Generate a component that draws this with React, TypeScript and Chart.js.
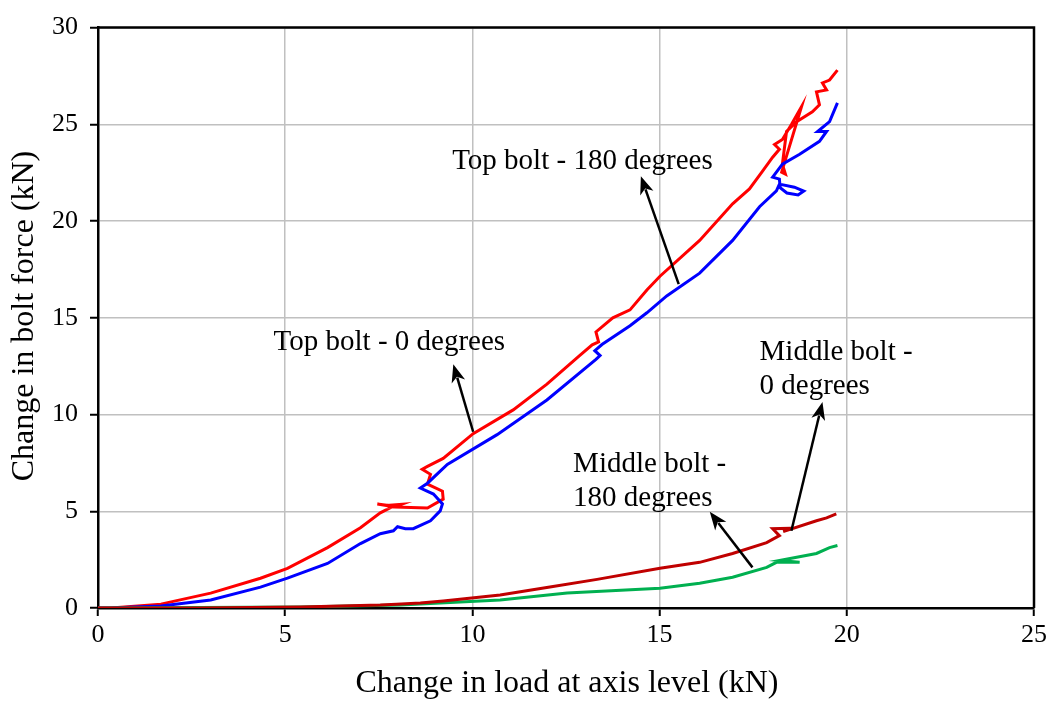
import React, { useEffect, useRef } from "react";
import { Chart, registerables } from "chart.js";

Chart.register(...registerables);

// Bolt force change vs. applied load, [load kN, bolt force kN]
const topBolt0: number[][] = [
  [0, 0], [0.35, 0], [1.68, 0.2], [3.01, 0.77], [4.34, 1.54], [5.06, 2.05], [6.13, 3.12],
  [7.01, 4.15], [7.54, 4.92], [7.89, 5.27], [7.46, 5.38], [7.7, 5.3], [8.1, 5.36], [7.9, 5.22],
  [8.8, 5.17], [9.22, 5.63], [9.2, 6.04], [8.8, 6.4], [8.88, 6.91], [8.66, 7.17], [8.8, 7.32],
  [9.22, 7.73], [10.02, 9.01], [11.09, 10.24], [11.99, 11.57], [12.87, 13.06], [13.2, 13.6],
  [13.37, 13.75], [13.3, 14.27], [13.75, 15.0], [14.21, 15.41], [14.66, 16.44], [15.01, 17.15],
  [16.07, 19.0], [16.95, 20.89], [17.4, 21.66], [17.75, 22.58], [18.02, 23.3], [18.2, 23.71],
  [18.07, 23.96], [18.28, 24.22], [18.52, 24.99], [18.79, 25.91], [18.26, 22.53], [18.36, 22.43],
  [18.28, 22.94], [18.39, 24.63], [18.66, 25.14], [19.08, 25.65], [19.27, 26.01], [19.19, 26.68],
  [19.46, 26.78], [19.35, 27.14], [19.54, 27.29], [19.75, 27.8],
];

const topBolt180: number[][] = [
  [0, 0], [0.35, 0], [1.68, 0.1], [3.01, 0.41], [4.34, 1.08], [5.06, 1.54], [6.13, 2.3],
  [7.01, 3.33], [7.54, 3.84], [7.89, 3.99], [8.0, 4.2], [8.21, 4.1], [8.42, 4.1], [8.88, 4.51],
  [9.14, 5.02], [9.2, 5.38], [8.96, 5.89], [8.61, 6.2], [8.8, 6.45], [9.33, 7.42], [10.66, 8.96],
  [11.99, 10.75], [13.3, 12.85], [13.41, 13.05], [13.27, 13.3], [13.46, 13.62], [14.21, 14.59],
  [14.66, 15.26], [15.19, 16.13], [16.07, 17.31], [16.95, 19.0], [17.67, 20.74], [18.12, 21.56],
  [18.2, 21.91], [18.6, 21.75], [18.85, 21.55], [18.7, 21.35], [18.4, 21.45], [18.22, 21.72],
  [18.2, 22.17], [18.02, 22.27], [18.28, 22.94], [18.74, 23.45], [19.27, 24.12], [19.46, 24.63],
  [19.22, 24.63], [19.54, 25.14], [19.75, 26.11],
];

const middleBolt0: number[][] = [
  [0, 0], [2.75, 0], [5.41, 0.05], [7.54, 0.15], [7.97, 0.2], [8.61, 0.26], [9.22, 0.36],
  [10.74, 0.67], [12.07, 1.08], [13.33, 1.48], [15.01, 2.05], [16.07, 2.36], [16.95, 2.82],
  [17.86, 3.38], [18.2, 3.74], [18.02, 4.1], [18.55, 4.12], [18.3, 3.95], [19.19, 4.51],
  [19.46, 4.66], [19.72, 4.86],
];

const middleBolt180: number[][] = [
  [0, 0], [5.41, 0.05], [8.08, 0.15], [10.74, 0.41], [12.53, 0.77], [15.01, 1.02], [16.07, 1.28],
  [16.95, 1.59], [17.86, 2.1], [18.12, 2.36], [18.74, 2.36], [18.2, 2.46], [19.19, 2.82],
  [19.54, 3.12], [19.75, 3.23],
];

const xTicks = [0, 5, 10, 15, 20, 25];
const yTicks = [0, 5, 10, 15, 20, 25, 30];

const xTitle = "Change in load at axis level (kN)";
const yTitle = "Change in bolt force (kN)";

// Callout text: [label lines], anchor in data units (left edge, first baseline)
const callouts: { lines: string[]; x: number; y: number }[] = [
  { lines: ["Top bolt - 0 degrees"], x: 4.69, y: 13.36 },
  { lines: ["Top bolt - 180 degrees"], x: 9.46, y: 22.68 },
  { lines: ["Middle bolt -", "0 degrees"], x: 17.67, y: 12.8 },
  { lines: ["Middle bolt -", "180 degrees"], x: 12.69, y: 7.01 },
];

// Arrows: [tail x, tail y, head x, head y] in data units
const arrows: number[][] = [
  [10.02, 9.11, 9.49, 12.6],
  [15.51, 16.74, 14.5, 22.32],
  [18.52, 3.99, 19.35, 10.65],
  [17.48, 2.1, 16.34, 4.97],
];

const SERIF = "'Liberation Serif', 'Times New Roman', serif";

const toXY = (arr: number[][]) => arr.map(([x, y]) => ({ x, y }));

const overlay = {
  id: "overlay",
  afterDatasetsDraw(chart: any) {
    const { ctx, chartArea, scales } = chart;
    const sx = scales.x;
    const sy = scales.y;
    ctx.save();
    // frame on top and right
    ctx.strokeStyle = "#000";
    ctx.lineWidth = 2.5;
    ctx.beginPath();
    ctx.moveTo(chartArea.left, chartArea.top);
    ctx.lineTo(chartArea.right, chartArea.top);
    ctx.lineTo(chartArea.right, chartArea.bottom);
    ctx.stroke();

    // arrows
    ctx.fillStyle = "#000";
    ctx.lineWidth = 2.5;
    arrows.forEach(([x0, y0, x1, y1]) => {
      const px0 = sx.getPixelForValue(x0);
      const py0 = sy.getPixelForValue(y0);
      const px1 = sx.getPixelForValue(x1);
      const py1 = sy.getPixelForValue(y1);
      const ang = Math.atan2(py1 - py0, px1 - px0);
      const len = 18;
      const wid = 7;
      const bx = px1 - len * Math.cos(ang);
      const by = py1 - len * Math.sin(ang);
      ctx.beginPath();
      ctx.moveTo(px0, py0);
      ctx.lineTo(bx + 4 * Math.cos(ang), by + 4 * Math.sin(ang));
      ctx.stroke();
      ctx.beginPath();
      ctx.moveTo(px1, py1);
      ctx.lineTo(bx + wid * Math.sin(ang), by - wid * Math.cos(ang));
      ctx.lineTo(bx + 5 * Math.cos(ang), by + 5 * Math.sin(ang));
      ctx.lineTo(bx - wid * Math.sin(ang), by + wid * Math.cos(ang));
      ctx.closePath();
      ctx.fill();
    });

    // callout labels
    ctx.font = `29px ${SERIF}`;
    ctx.textAlign = "left";
    ctx.textBaseline = "alphabetic";
    callouts.forEach((c) => {
      const px = sx.getPixelForValue(c.x);
      const py = sy.getPixelForValue(c.y);
      c.lines.forEach((line, i) => ctx.fillText(line, px, py + i * 34));
    });

    // axis titles
    ctx.font = `32px ${SERIF}`;
    ctx.textAlign = "center";
    ctx.textBaseline = "middle";
    ctx.fillText(xTitle, (chartArea.left + chartArea.right) / 2 + 1, 684);
    ctx.translate(25, 316);
    ctx.rotate(-Math.PI / 2);
    ctx.fillText(yTitle, 0, 0);
    ctx.restore();
  },
};

export default function App() {
  const ref = useRef<HTMLCanvasElement>(null);

  useEffect(() => {
    document.body.style.margin = "0";
    if (!ref.current) return;
    const line = (data: number[][], color: string) => ({
      data: toXY(data),
      borderColor: color,
      backgroundColor: color,
      borderWidth: 3,
      pointRadius: 0,
      showLine: true,
      fill: false,
      tension: 0,
    });
    const chart = new Chart(ref.current, {
      type: "scatter",
      data: {
        datasets: [
          line(middleBolt0, "#c00000"),
          line(middleBolt180, "#00b050"),
          line(topBolt180, "#0000ff"),
          line(topBolt0, "#ff0000"),
        ],
      },
      options: {
        animation: false,
        responsive: true,
        maintainAspectRatio: false,
        layout: { padding: { left: 0, top: 23, right: 20, bottom: 0 } },
        plugins: { legend: { display: false }, tooltip: { enabled: false } },
        scales: {
          x: {
            type: "linear",
            min: 0,
            max: 25,
            afterBuildTicks: (s: any) => {
              s.ticks = xTicks.map((v) => ({ value: v }));
            },
            afterFit: (s: any) => {
              s.height = 97;
            },
            ticks: {
              color: "#000",
              font: { family: SERIF, size: 26 },
              padding: 4,
              maxRotation: 0,
            },
            grid: {
              color: "#c0c0c0",
              lineWidth: 1.5,
              tickColor: "#000",
              tickLength: 8,
              tickWidth: 2,
            },
            border: { color: "#000", width: 2.5 },
          },
          y: {
            type: "linear",
            min: 0,
            max: 30,
            afterBuildTicks: (s: any) => {
              s.ticks = yTicks.map((v) => ({ value: v }));
            },
            afterFit: (s: any) => {
              s.width = 98;
            },
            ticks: {
              color: "#000",
              font: { family: SERIF, size: 26 },
              padding: 12,
            },
            grid: {
              color: "#c0c0c0",
              lineWidth: 1.5,
              tickColor: "#000",
              tickLength: 8,
              tickWidth: 2,
            },
            border: { color: "#000", width: 2.5 },
          },
        },
      },
      plugins: [overlay],
    });
    return () => chart.destroy();
  }, []);

  return (
    <div style={{ width: 1054, height: 705, position: "relative" }}>
      <canvas ref={ref} />
    </div>
  );
}
